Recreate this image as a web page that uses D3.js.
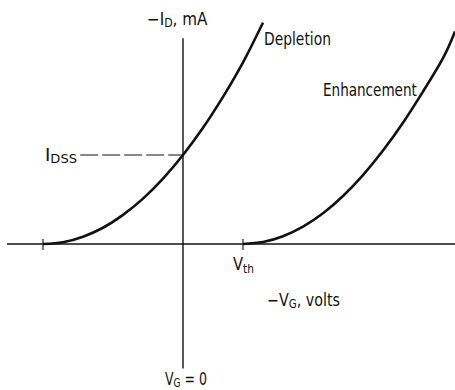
<!DOCTYPE html>
<html>
<head>
<meta charset="utf-8">
<script src="https://cdn.jsdelivr.net/npm/d3@7"></script>
<style>
  html, body { margin: 0; padding: 0; background: #fff; }
  svg { display: block; }
  text { font-family: "Liberation Sans Narrow", "DejaVu Sans Condensed", "DejaVu Sans", sans-serif; font-stretch: condensed; fill: #111; }
</style>
</head>
<body>
<svg id="chart" width="455" height="390"></svg>
<script>
// Transfer characteristics of depletion- and enhancement-mode MOSFETs
// gate voltage (−VG, arbitrary volts) and drain current (−ID, mA)
const depletionV = [-3.5, -3, -2.5, -2, -1.5, -1, -0.5, 0, 0.5, 1, 1.5, 2];
const depletionI = [0, 0.08, 0.33, 0.73, 1.31, 2.04, 2.94, 4.0, 5.22, 6.61, 8.16, 9.95];
const enhancementV = [1.5, 2, 2.5, 3, 3.5, 4, 4.5, 5, 5.5, 6, 6.5, 6.8];
const enhancementI = [0, 0.09, 0.35, 0.78, 1.38, 2.16, 3.1, 4.2, 5.45, 6.85, 8.35, 9.55];
const pinchOffV = -3.5;
const thresholdV = 1.5;
const idss = 4.0;

const svg = d3.select("#chart");
const x = d3.scaleLinear().domain([-4.4, 6.8]).range([7, 455]);
const y = d3.scaleLinear().domain([0, 10]).range([244, 21.5]);

const ink = "#111";

// axes
svg.append("line")
  .attr("x1", x(-4.4)).attr("x2", x(6.8))
  .attr("y1", y(0)).attr("y2", y(0))
  .attr("stroke", ink).attr("stroke-width", 1.4);
svg.append("line")
  .attr("x1", x(0)).attr("x2", x(0))
  .attr("y1", y(9.25)).attr("y2", y(-5.6))
  .attr("stroke", ink).attr("stroke-width", 1.4);

// tick marks at pinch-off and threshold
svg.selectAll("line.tick")
  .data([pinchOffV, thresholdV])
  .join("line")
  .attr("class", "tick")
  .attr("x1", d => x(d)).attr("x2", d => x(d))
  .attr("y1", y(0) - 5).attr("y2", y(0) + 6)
  .attr("stroke", ink).attr("stroke-width", 1.1);

// IDSS dashed guide
svg.append("line")
  .attr("x1", x(-2.57)).attr("x2", x(0))
  .attr("y1", y(idss)).attr("y2", y(idss))
  .attr("stroke", ink).attr("stroke-width", 1.1)
  .attr("stroke-dasharray", "18,4");

// curves
const line = d3.line()
  .x(d => x(d[0])).y(d => y(d[1]))
  .curve(d3.curveNatural);

svg.append("path")
  .datum(d3.zip(depletionV, depletionI))
  .attr("d", line)
  .attr("fill", "none").attr("stroke", ink).attr("stroke-width", 2.6);

svg.append("path")
  .datum(d3.zip(enhancementV, enhancementI))
  .attr("d", line)
  .attr("fill", "none").attr("stroke", ink).attr("stroke-width", 2.6);

// labels: main text with optional subscript runs, squeezed horizontally to a target width
function label(xp, yp, parts, size, width) {
  const t = svg.append("text").attr("x", xp).attr("y", yp)
    .attr("font-size", size);
  parts.forEach(p => {
    const s = t.append("tspan").text(p.t);
    if (p.sub) s.attr("font-size", size * 0.72).attr("dy", p.dy || 3);
    if (p.back) s.attr("dy", -p.back);
  });
  if (width) {
    const w = t.node().getBBox().width;
    const sx = width / w;
    t.attr("transform", `translate(${xp},0) scale(${sx},1) translate(${-xp},0)`);
  }
  return t;
}

label(147, 25, [{t: "−I"}, {t: "D", sub: true, dy: 2}, {t: ", mA", back: 2}], 17, 61);
label(264, 45, [{t: "Depletion"}], 17, 67);
label(323, 96, [{t: "Enhancement"}], 17, 94);
label(45, 161, [{t: "I"}, {t: "DSS", sub: true, dy: 2}], 17, 32);
label(233, 270, [{t: "V"}, {t: "th", sub: true, dy: 3}], 17, 21);
label(267, 306, [{t: "−V"}, {t: "G", sub: true, dy: 2}, {t: ", volts", back: 2}], 17, 73);
label(165, 385, [{t: "V"}, {t: "G", sub: true, dy: 2}, {t: " = 0", back: 2}], 17, 42);
</script>
</body>
</html>
